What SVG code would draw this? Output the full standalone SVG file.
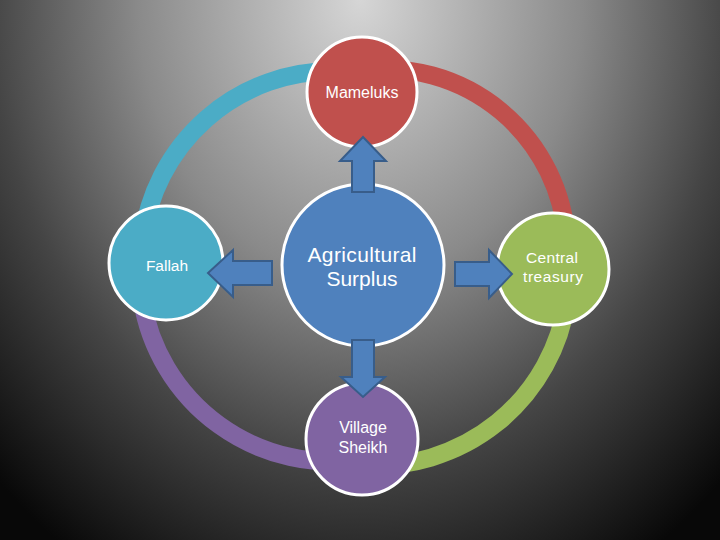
<svg xmlns="http://www.w3.org/2000/svg" width="720" height="540" viewBox="0 0 720 540">
<defs>
<radialGradient id="bg" gradientUnits="userSpaceOnUse" cx="360" cy="0" r="660" gradientTransform="translate(360 0) scale(0.8 1) translate(-360 0)">
<stop offset="0" stop-color="#d6d6d6"/>
<stop offset="0.42" stop-color="#8a8a8a"/>
<stop offset="0.7" stop-color="#454545"/>
<stop offset="1" stop-color="#080808"/>
</radialGradient>
<style>
.arc{fill:none;stroke-width:18;}
.node{stroke:#fff;stroke-width:3;}
.arrow{fill:#4f81bd;stroke:#385d8a;stroke-width:2;stroke-linejoin:miter;}
.t{font-family:"Liberation Sans",Arial,sans-serif;fill:#fff;text-anchor:middle;}
</style>
</defs>
<rect width="720" height="540" fill="url(#bg)"/>
<g id="connectors">
<path class="arc" stroke="#4bacc6" d="M 142.4,240 A 192 192 0 0 1 335,71"/>
<path class="arc" stroke="#c0504d" d="M 362,70.3 A 183 183 0 0 1 566.6,240"/>
<path class="arc" stroke="#9bbb59" d="M 567,300 A 193 193 0 0 1 362,465"/>
<path class="arc" stroke="#8064a2" d="M 142,300 A 192 192 0 0 0 362,459"/>
</g>
<g id="mameluks">
<circle class="node" cx="362" cy="92" r="55" fill="#c0504d"/>
<text class="t" x="362" y="98" font-size="16">Mameluks</text>
</g>
<g id="fallah">
<circle class="node" cx="166" cy="263" r="57" fill="#4bacc6"/>
<text class="t" x="167" y="271" font-size="15.5">Fallah</text>
</g>
<g id="central-treasury">
<circle class="node" cx="553" cy="269" r="56" fill="#9bbb59"/>
<text class="t" x="552" y="263" font-size="15.5" textLength="52" lengthAdjust="spacing">Central</text>
<text class="t" x="553" y="282" font-size="15.5" textLength="60" lengthAdjust="spacing">treasury</text>
</g>
<g id="village-sheikh">
<circle class="node" cx="362" cy="439" r="56" fill="#8064a2"/>
<text class="t" x="363" y="433" font-size="16">Village</text>
<text class="t" x="363" y="453" font-size="16">Sheikh</text>
</g>
<g id="agricultural-surplus">
<circle class="node" cx="363" cy="265" r="81" fill="#4f81bd"/>
<text class="t" x="362" y="262" font-size="21" textLength="109" lengthAdjust="spacing">Agricultural</text>
<text class="t" x="362" y="286" font-size="21">Surplus</text>
</g>
<g id="arrows">
<path class="arrow" d="M 352,192 L 352,161 L 340,161 L 363,137 L 386,161 L 374,161 L 374,192 Z"/>
<path class="arrow" d="M 352,340 L 374,340 L 374,377 L 385,377 L 363,397 L 341,377 L 352,377 Z"/>
<path class="arrow" d="M 272,261 L 233,261 L 233,250 L 208,273 L 233,297 L 233,285 L 272,285 Z"/>
<path class="arrow" d="M 455,262 L 489,262 L 489,250 L 512,274 L 489,298 L 489,286 L 455,286 Z"/>
</g>
</svg>
